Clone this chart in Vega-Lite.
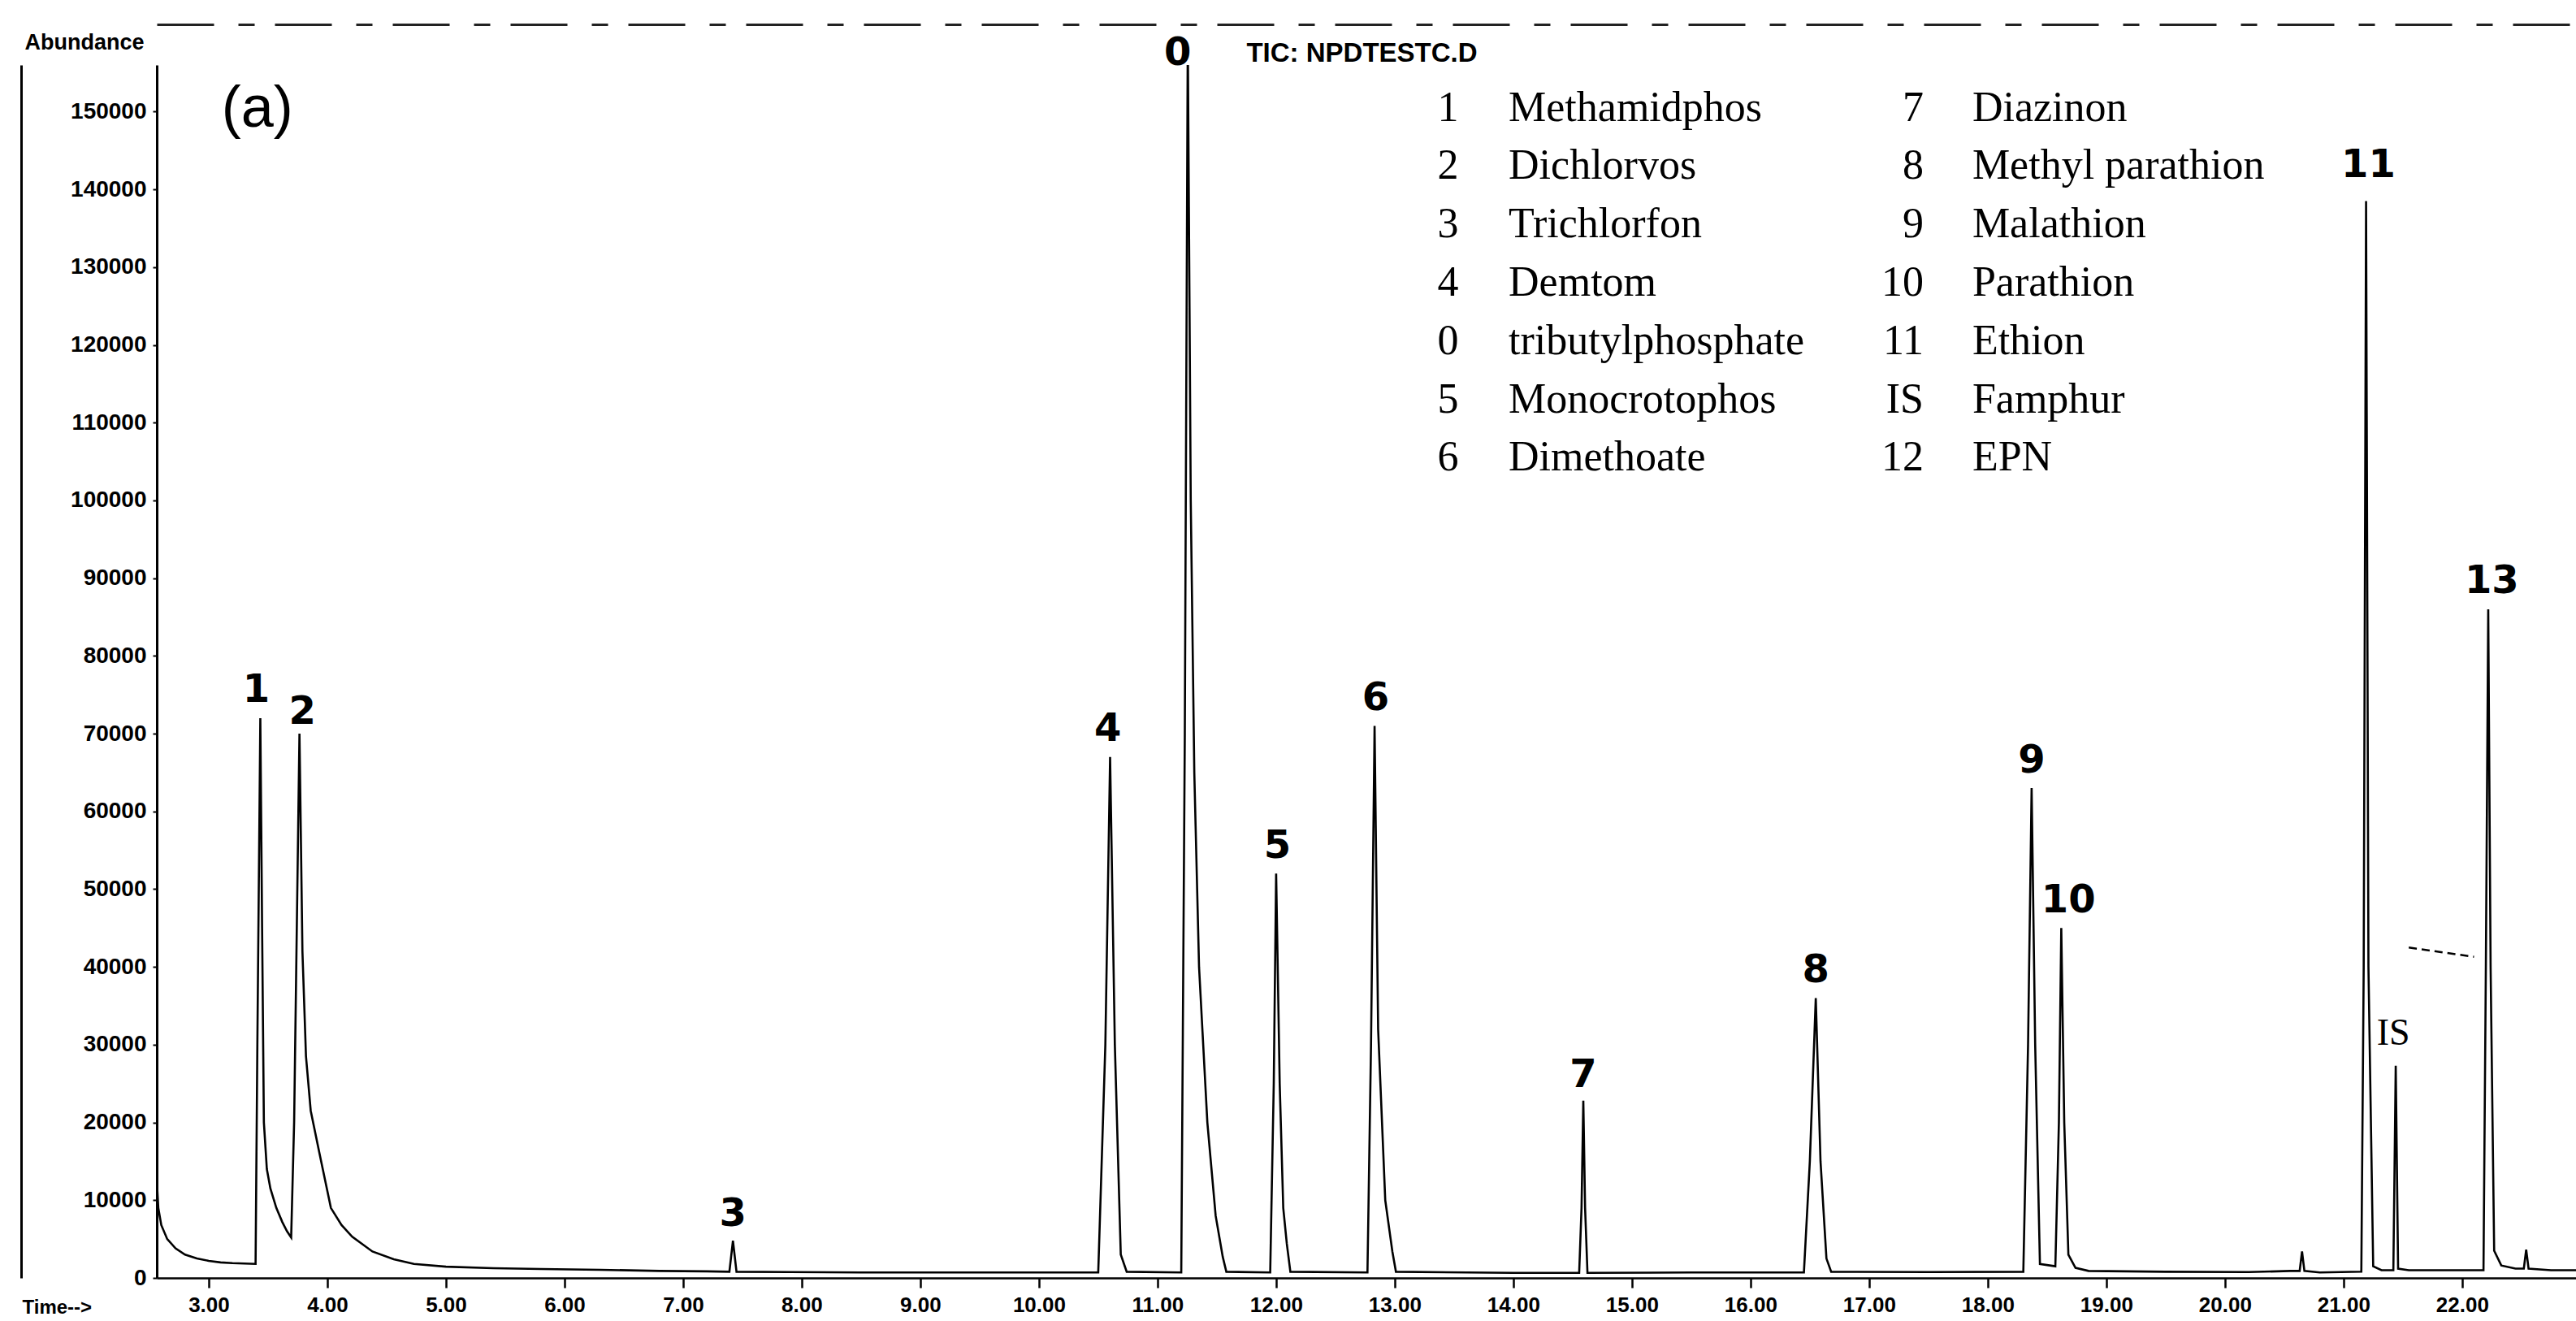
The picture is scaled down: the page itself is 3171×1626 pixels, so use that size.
{
  "$schema": "https://vega.github.io/schema/vega-lite/v6.json",
  "autosize": {"type": "none"},
  "width": 2978,
  "height": 1493,
  "padding": {"left": 193, "top": 80, "right": 0, "bottom": 53},
  "background": "white",
  "config": {
    "view": {"stroke": null},
    "axis": {"grid": false, "domainColor": "black", "tickColor": "black", "labelColor": "black", "titleColor": "black"}
  },
  "datasets": {
    "trace": [
      {"t": 2.562, "a": 12500}, {"t": 2.575, "a": 9000}, {"t": 2.6, "a": 6800}, {"t": 2.65, "a": 5000},
      {"t": 2.72, "a": 3800}, {"t": 2.8, "a": 3000}, {"t": 2.9, "a": 2500}, {"t": 3.0, "a": 2200},
      {"t": 3.1, "a": 2000}, {"t": 3.2, "a": 1900}, {"t": 3.3, "a": 1850}, {"t": 3.395, "a": 1800},
      {"t": 3.41, "a": 30000}, {"t": 3.435, "a": 72000}, {"t": 3.45, "a": 45000}, {"t": 3.465, "a": 20000},
      {"t": 3.49, "a": 14000}, {"t": 3.52, "a": 11500}, {"t": 3.57, "a": 9000}, {"t": 3.62, "a": 7200},
      {"t": 3.66, "a": 6000}, {"t": 3.695, "a": 5200}, {"t": 3.72, "a": 20000}, {"t": 3.765, "a": 70000},
      {"t": 3.79, "a": 42000}, {"t": 3.82, "a": 28500}, {"t": 3.86, "a": 21500}, {"t": 3.93, "a": 16300},
      {"t": 4.03, "a": 9000}, {"t": 4.12, "a": 6800}, {"t": 4.21, "a": 5300}, {"t": 4.38, "a": 3400},
      {"t": 4.56, "a": 2400}, {"t": 4.73, "a": 1800}, {"t": 5.0, "a": 1450}, {"t": 5.4, "a": 1250},
      {"t": 5.8, "a": 1150}, {"t": 6.3, "a": 1050}, {"t": 6.8, "a": 900}, {"t": 7.2, "a": 850},
      {"t": 7.39, "a": 800}, {"t": 7.42, "a": 4800}, {"t": 7.45, "a": 800}, {"t": 7.9, "a": 750},
      {"t": 8.5, "a": 700}, {"t": 9.0, "a": 700}, {"t": 9.5, "a": 700}, {"t": 10.0, "a": 700},
      {"t": 10.5, "a": 700}, {"t": 10.56, "a": 30000}, {"t": 10.6, "a": 67000}, {"t": 10.64, "a": 30000},
      {"t": 10.69, "a": 3000}, {"t": 10.74, "a": 800}, {"t": 11.2, "a": 700}, {"t": 11.23, "a": 70000},
      {"t": 11.255, "a": 160000}, {"t": 11.28, "a": 100000}, {"t": 11.31, "a": 65000}, {"t": 11.35, "a": 40000},
      {"t": 11.42, "a": 20000}, {"t": 11.49, "a": 8000}, {"t": 11.55, "a": 2700}, {"t": 11.58, "a": 800},
      {"t": 11.95, "a": 700}, {"t": 11.98, "a": 25000}, {"t": 12.0, "a": 52000}, {"t": 12.03, "a": 25000},
      {"t": 12.06, "a": 9000}, {"t": 12.09, "a": 4400}, {"t": 12.12, "a": 800}, {"t": 12.77, "a": 700},
      {"t": 12.8, "a": 30000}, {"t": 12.83, "a": 71000}, {"t": 12.86, "a": 32000}, {"t": 12.92, "a": 10000},
      {"t": 12.98, "a": 3400}, {"t": 13.01, "a": 800}, {"t": 14.0, "a": 650}, {"t": 14.555, "a": 650},
      {"t": 14.575, "a": 9000}, {"t": 14.59, "a": 22800}, {"t": 14.605, "a": 9000}, {"t": 14.625, "a": 650},
      {"t": 15.5, "a": 700}, {"t": 16.45, "a": 700}, {"t": 16.5, "a": 15000}, {"t": 16.55, "a": 36000},
      {"t": 16.59, "a": 15000}, {"t": 16.64, "a": 2500}, {"t": 16.68, "a": 800}, {"t": 17.5, "a": 750},
      {"t": 18.3, "a": 800}, {"t": 18.34, "a": 30000}, {"t": 18.37, "a": 63000}, {"t": 18.4, "a": 30000},
      {"t": 18.44, "a": 1800}, {"t": 18.57, "a": 1500}, {"t": 18.6, "a": 20000}, {"t": 18.62, "a": 45000},
      {"t": 18.645, "a": 20000}, {"t": 18.68, "a": 3000}, {"t": 18.74, "a": 1300}, {"t": 18.85, "a": 900},
      {"t": 19.5, "a": 800}, {"t": 20.2, "a": 750}, {"t": 20.55, "a": 900}, {"t": 20.63, "a": 900},
      {"t": 20.65, "a": 3400}, {"t": 20.67, "a": 900}, {"t": 20.8, "a": 700}, {"t": 21.15, "a": 800},
      {"t": 21.17, "a": 40000}, {"t": 21.19, "a": 138500}, {"t": 21.21, "a": 40000}, {"t": 21.25, "a": 1500},
      {"t": 21.32, "a": 1000}, {"t": 21.42, "a": 1000}, {"t": 21.44, "a": 27300}, {"t": 21.46, "a": 1200},
      {"t": 21.55, "a": 1000}, {"t": 22.18, "a": 1000}, {"t": 22.2, "a": 40000}, {"t": 22.22, "a": 86000},
      {"t": 22.24, "a": 40000}, {"t": 22.27, "a": 3500}, {"t": 22.33, "a": 1600}, {"t": 22.45, "a": 1200},
      {"t": 22.52, "a": 1200}, {"t": 22.54, "a": 3650}, {"t": 22.56, "a": 1200}, {"t": 22.75, "a": 1000},
      {"t": 22.96, "a": 1000}
    ],
    "peaklabels": [
      {"t": 3.40, "a": 75500, "txt": "1"}, {"t": 3.79, "a": 72700, "txt": "2"},
      {"t": 7.42, "a": 8100, "txt": "3"}, {"t": 10.58, "a": 70500, "txt": "4"},
      {"t": 11.17, "a": 157500, "txt": "0"}, {"t": 12.01, "a": 55500, "txt": "5"},
      {"t": 12.84, "a": 74500, "txt": "6"}, {"t": 14.59, "a": 26000, "txt": "7"},
      {"t": 16.55, "a": 39500, "txt": "8"}, {"t": 18.37, "a": 66500, "txt": "9"},
      {"t": 18.68, "a": 48500, "txt": "10"}, {"t": 21.21, "a": 143000, "txt": "11"},
      {"t": 22.25, "a": 89500, "txt": "13"}
    ],
    "serif": [
      {"t": 21.42, "a": 31500, "txt": "IS"}
    ],
    "legnum1": [
      {"t": 13.45, "a": 150500, "txt": "1"}, {"t": 13.45, "a": 143000, "txt": "2"},
      {"t": 13.45, "a": 135500, "txt": "3"}, {"t": 13.45, "a": 128000, "txt": "4"},
      {"t": 13.45, "a": 120500, "txt": "0"}, {"t": 13.45, "a": 113000, "txt": "5"},
      {"t": 13.45, "a": 105500, "txt": "6"}
    ],
    "legnum2": [
      {"t": 17.46, "a": 150500, "txt": "7"}, {"t": 17.46, "a": 143000, "txt": "8"},
      {"t": 17.46, "a": 135500, "txt": "9"}, {"t": 17.46, "a": 128000, "txt": "10"},
      {"t": 17.46, "a": 120500, "txt": "11"}, {"t": 17.46, "a": 113000, "txt": "IS"},
      {"t": 17.46, "a": 105500, "txt": "12"}
    ],
    "legname": [
      {"t": 13.96, "a": 150500, "txt": "Methamidphos"}, {"t": 13.96, "a": 143000, "txt": "Dichlorvos"},
      {"t": 13.96, "a": 135500, "txt": "Trichlorfon"}, {"t": 13.96, "a": 128000, "txt": "Demtom"},
      {"t": 13.96, "a": 120500, "txt": "tributylphosphate"}, {"t": 13.96, "a": 113000, "txt": "Monocrotophos"},
      {"t": 13.96, "a": 105500, "txt": "Dimethoate"},
      {"t": 17.87, "a": 150500, "txt": "Diazinon"}, {"t": 17.87, "a": 143000, "txt": "Methyl parathion"},
      {"t": 17.87, "a": 135500, "txt": "Malathion"}, {"t": 17.87, "a": 128000, "txt": "Parathion"},
      {"t": 17.87, "a": 120500, "txt": "Ethion"}, {"t": 17.87, "a": 113000, "txt": "Famphur"},
      {"t": 17.87, "a": 105500, "txt": "EPN"}
    ],
    "panel": [
      {"t": 3.41, "a": 150400, "txt": "(a)"}
    ],
    "tic": [
      {"t": 11.75, "a": 157500, "txt": "TIC: NPDTESTC.D"}
    ],
    "arrow": [
      {"t": 21.55, "a": 42500}, {"t": 22.1, "a": 41300}
    ]
  },
  "resolve": {"scale": {"x": "independent", "y": "independent"}},
  "layer": [
    {
      "data": {"name": "trace"},
      "mark": {"type": "line", "color": "black", "strokeWidth": 2.6, "clip": true},
      "encoding": {
        "x": {"field": "t", "type": "quantitative",
          "scale": {"domain": [2.562, 22.96], "nice": false, "zero": false},
          "axis": {"orient": "bottom", "values": [3,4,5,6,7,8,9,10,11,12,13,14,15,16,17,18,19,20,21,22],
            "format": ".2f", "labelFont": "Liberation Sans", "labelFontWeight": "bold", "labelFontSize": 26,
            "tickSize": 12, "tickWidth": 2.5, "domainWidth": 2.5, "labelPadding": 8,
            "title": "Time-->", "titleFont": "Liberation Sans", "titleFontWeight": "bold", "titleFontSize": 24,
            "titleX": -166, "titleY": 36, "titleAlign": "left", "titleBaseline": "middle", "titleAnchor": null}},
        "y": {"field": "a", "type": "quantitative",
          "scale": {"domain": [0, 156000], "nice": false, "zero": false},
          "axis": {"orient": "left", "values": [0,10000,20000,30000,40000,50000,60000,70000,80000,90000,100000,110000,120000,130000,140000,150000],
            "format": "d", "labelFont": "Liberation Sans", "labelFontWeight": "bold", "labelFontSize": 28,
            "tickSize": 5, "tickWidth": 2, "domainWidth": 3, "labelPadding": 8,
            "title": "Abundance", "titleFont": "Liberation Sans", "titleFontWeight": "bold", "titleFontSize": 27,
            "titleAngle": 0, "titleX": -163, "titleY": -28, "titleAlign": "left", "titleBaseline": "middle", "titleAnchor": null}}
      }
    },
    {
      "data": {"name": "peaklabels"},
      "mark": {"type": "text", "font": "DejaVu Sans", "fontWeight": "bold", "fontSize": 48, "align": "center", "baseline": "middle", "color": "black"},
      "encoding": {
        "x": {"field": "t", "type": "quantitative", "scale": {"domain": [2.562, 22.96], "nice": false, "zero": false},
          "axis": {"orient": "top", "offset": 50, "labels": false, "ticks": false, "title": null, "domainWidth": 3, "domainDash": [70, 30, 20, 25], "domainColor": "#222"}},
        "y": {"field": "a", "type": "quantitative", "scale": {"domain": [0, 156000], "nice": false, "zero": false},
          "axis": {"orient": "left", "offset": 167, "labels": false, "ticks": false, "title": null, "domainWidth": 3}},
        "text": {"field": "txt"}
      }
    },
    {
      "data": {"name": "serif"},
      "mark": {"type": "text", "font": "Liberation Serif", "fontSize": 46, "align": "center", "baseline": "middle", "color": "black"},
      "encoding": {
        "x": {"field": "t", "type": "quantitative", "scale": {"domain": [2.562, 22.96], "nice": false, "zero": false}, "axis": null},
        "y": {"field": "a", "type": "quantitative", "scale": {"domain": [0, 156000], "nice": false, "zero": false}, "axis": null},
        "text": {"field": "txt"}
      }
    },
    {
      "data": {"name": "legnum1"},
      "mark": {"type": "text", "font": "Liberation Serif", "fontSize": 52, "align": "center", "baseline": "middle", "color": "black"},
      "encoding": {
        "x": {"field": "t", "type": "quantitative", "scale": {"domain": [2.562, 22.96], "nice": false, "zero": false}, "axis": null},
        "y": {"field": "a", "type": "quantitative", "scale": {"domain": [0, 156000], "nice": false, "zero": false}, "axis": null},
        "text": {"field": "txt"}
      }
    },
    {
      "data": {"name": "legnum2"},
      "mark": {"type": "text", "font": "Liberation Serif", "fontSize": 52, "align": "right", "baseline": "middle", "color": "black"},
      "encoding": {
        "x": {"field": "t", "type": "quantitative", "scale": {"domain": [2.562, 22.96], "nice": false, "zero": false}, "axis": null},
        "y": {"field": "a", "type": "quantitative", "scale": {"domain": [0, 156000], "nice": false, "zero": false}, "axis": null},
        "text": {"field": "txt"}
      }
    },
    {
      "data": {"name": "legname"},
      "mark": {"type": "text", "font": "Liberation Serif", "fontSize": 52, "align": "left", "baseline": "middle", "color": "black"},
      "encoding": {
        "x": {"field": "t", "type": "quantitative", "scale": {"domain": [2.562, 22.96], "nice": false, "zero": false}, "axis": null},
        "y": {"field": "a", "type": "quantitative", "scale": {"domain": [0, 156000], "nice": false, "zero": false}, "axis": null},
        "text": {"field": "txt"}
      }
    },
    {
      "data": {"name": "panel"},
      "mark": {"type": "text", "font": "Liberation Sans", "fontSize": 72, "align": "center", "baseline": "middle", "color": "black"},
      "encoding": {
        "x": {"field": "t", "type": "quantitative", "scale": {"domain": [2.562, 22.96], "nice": false, "zero": false}, "axis": null},
        "y": {"field": "a", "type": "quantitative", "scale": {"domain": [0, 156000], "nice": false, "zero": false}, "axis": null},
        "text": {"field": "txt"}
      }
    },
    {
      "data": {"name": "tic"},
      "mark": {"type": "text", "font": "Liberation Sans", "fontWeight": "bold", "fontSize": 33, "align": "left", "baseline": "middle", "color": "black"},
      "encoding": {
        "x": {"field": "t", "type": "quantitative", "scale": {"domain": [2.562, 22.96], "nice": false, "zero": false}, "axis": null},
        "y": {"field": "a", "type": "quantitative", "scale": {"domain": [0, 156000], "nice": false, "zero": false}, "axis": null},
        "text": {"field": "txt"}
      }
    },
    {
      "data": {"name": "arrow"},
      "mark": {"type": "line", "color": "black", "strokeWidth": 2.5, "strokeDash": [10, 6]},
      "encoding": {
        "x": {"field": "t", "type": "quantitative", "scale": {"domain": [2.562, 22.96], "nice": false, "zero": false}, "axis": null},
        "y": {"field": "a", "type": "quantitative", "scale": {"domain": [0, 156000], "nice": false, "zero": false}, "axis": null}
      }
    }
  ]
}
